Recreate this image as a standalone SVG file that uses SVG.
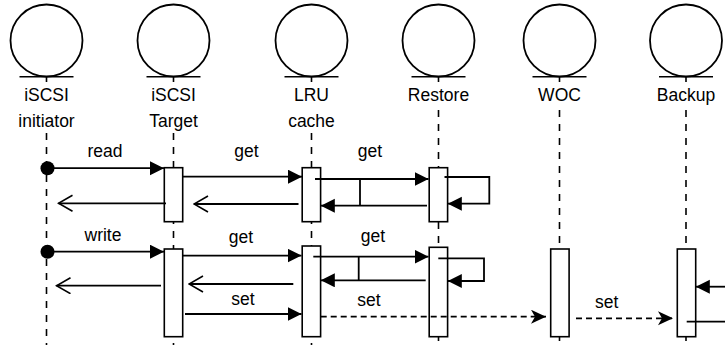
<svg xmlns="http://www.w3.org/2000/svg" width="725" height="345" viewBox="0 0 725 345">
<style>
.head{fill:#fff;stroke:#000;stroke-width:1.8}
.base{stroke:#000;stroke-width:1.6}
.life{stroke:#000;stroke-width:1.6;stroke-dasharray:7,7;fill:none}
.lbl{font-family:"Liberation Sans",Arial,Helvetica,sans-serif;font-size:17.5px;fill:#000;text-anchor:middle}
.act{fill:#fff;stroke:#000;stroke-width:1.6}
.msg{stroke:#000;stroke-width:1.8;fill:none}
.dash{stroke:#000;stroke-width:1.8;fill:none;stroke-dasharray:6,4}
</style>
<defs>
<marker id="fa" markerUnits="userSpaceOnUse" markerWidth="15" markerHeight="15" refX="14" refY="7" orient="auto"><path d="M0,0 L14,7 L0,14 z" fill="#000"/></marker>
<marker id="oa" markerUnits="userSpaceOnUse" markerWidth="16" markerHeight="18" refX="14.5" refY="8.5" orient="auto"><path d="M0.5,0.5 L14.5,8.5 L0.5,16.5" fill="none" stroke="#000" stroke-width="1.6"/></marker>
<marker id="ca" markerUnits="userSpaceOnUse" markerWidth="16" markerHeight="15" refX="15" refY="7" orient="auto"><path d="M0,0 L15,7 L0,14 L4,7 z" fill="#000"/></marker>
</defs>

<g id="lifelines">
<path class="life" d="M46.5,133 V345 M173.5,133 V345 M311.5,133 V345 M438.5,110 V345 M559.5,110 V345 M686,110 V345"/>
</g>

<g id="initiator">
<circle class="head" cx="46.5" cy="40.5" r="36"/>
<path class="base" d="M19.5,76.7 H73.5 M46.5,76.7 V82"/>
<text class="lbl" x="46.5" y="101">iSCSI</text>
<text class="lbl" x="46.5" y="127">initiator</text>
</g>
<g id="target">
<circle class="head" cx="173.5" cy="40.5" r="36"/>
<path class="base" d="M146.5,76.7 H200.5 M173.5,76.7 V82"/>
<text class="lbl" x="173.5" y="101">iSCSI</text>
<text class="lbl" x="173.5" y="127">Target</text>
<rect class="act" x="164.3" y="167.7" width="18.4" height="54"/>
<rect class="act" x="164.3" y="249" width="18.4" height="87.7"/>
</g>
<g id="lru">
<circle class="head" cx="311.5" cy="40.5" r="36"/>
<path class="base" d="M284.5,76.7 H338.5 M311.5,76.7 V82"/>
<text class="lbl" x="311.5" y="101">LRU</text>
<text class="lbl" x="311.5" y="127">cache</text>
<rect class="act" x="302.2" y="167.7" width="18.4" height="54"/>
<rect class="act" x="302.2" y="246" width="18.4" height="90.7"/>
</g>
<g id="restore">
<circle class="head" cx="438.5" cy="40.5" r="36"/>
<path class="base" d="M411.5,76.7 H465.5 M438.5,76.7 V82"/>
<text class="lbl" x="438.5" y="101">Restore</text>
<rect class="act" x="429.2" y="167.7" width="18.4" height="54"/>
<rect class="act" x="429.2" y="247.3" width="18.4" height="89.4"/>
</g>
<g id="woc">
<circle class="head" cx="559.5" cy="40.5" r="36"/>
<path class="base" d="M532.5,76.7 H586.5 M559.5,76.7 V82"/>
<text class="lbl" x="559.5" y="101">WOC</text>
<rect class="act" x="550.7" y="249" width="18.4" height="87.7"/>
</g>
<g id="backup">
<circle class="head" cx="686" cy="40.5" r="36"/>
<path class="base" d="M659,76.7 H713 M686,76.7 V82"/>
<text class="lbl" x="686" y="101">Backup</text>
<rect class="act" x="677.3" y="249" width="18.4" height="87.7"/>
</g>

<g id="connectors">
<circle cx="47.5" cy="168.2" r="7" fill="#000"/>
<path class="msg" d="M47.5,168.2 H164" marker-end="url(#fa)"/>
<text class="lbl" x="105" y="157.3">read</text>
<path class="msg" d="M166,203.3 H58.5" marker-end="url(#oa)"/>
<path class="msg" d="M183,176.7 H302" marker-end="url(#fa)"/>
<text class="lbl" x="246.5" y="157">get</text>
<path class="msg" d="M298.5,204 H194" marker-end="url(#oa)"/>
<path class="msg" d="M315,179 H428.5" marker-end="url(#fa)"/>
<path class="msg" d="M360,179 V205.7"/>
<path class="msg" d="M427,205.7 H320.8" marker-end="url(#fa)"/>
<text class="lbl" x="370" y="157">get</text>
<path class="msg" d="M444.5,177 H489.3 V203.7 H447.8" marker-end="url(#fa)"/>

<circle cx="47.5" cy="251.7" r="7" fill="#000"/>
<path class="msg" d="M47.5,251.7 H164" marker-end="url(#fa)"/>
<text class="lbl" x="103" y="240.7">write</text>
<path class="msg" d="M161,285.7 H56.5" marker-end="url(#oa)"/>
<path class="msg" d="M182.7,255.6 H301.5" marker-end="url(#fa)"/>
<text class="lbl" x="241" y="243">get</text>
<path class="msg" d="M293.3,284 H189" marker-end="url(#oa)"/>
<path class="msg" d="M185,314 H301.5" marker-end="url(#fa)"/>
<text class="lbl" x="243" y="305">set</text>
<path class="msg" d="M313.3,256.7 H428.5" marker-end="url(#fa)"/>
<path class="msg" d="M358.7,256.7 V280.3"/>
<path class="msg" d="M425.7,280.3 H320.8" marker-end="url(#fa)"/>
<text class="lbl" x="373" y="241.7">get</text>
<path class="msg" d="M438.3,258.3 H484 V281 H447.8" marker-end="url(#fa)"/>
<path class="dash" d="M320.7,316.7 H546" marker-end="url(#ca)"/>
<text class="lbl" x="369" y="306">set</text>
<path class="dash" d="M576,318.3 H673" marker-end="url(#ca)"/>
<text class="lbl" x="606.7" y="308.3">set</text>
<path class="msg" d="M725,286.7 H695.8" marker-end="url(#fa)"/>
<path class="msg" d="M686.7,321.7 H725"/>
</g>
</svg>
